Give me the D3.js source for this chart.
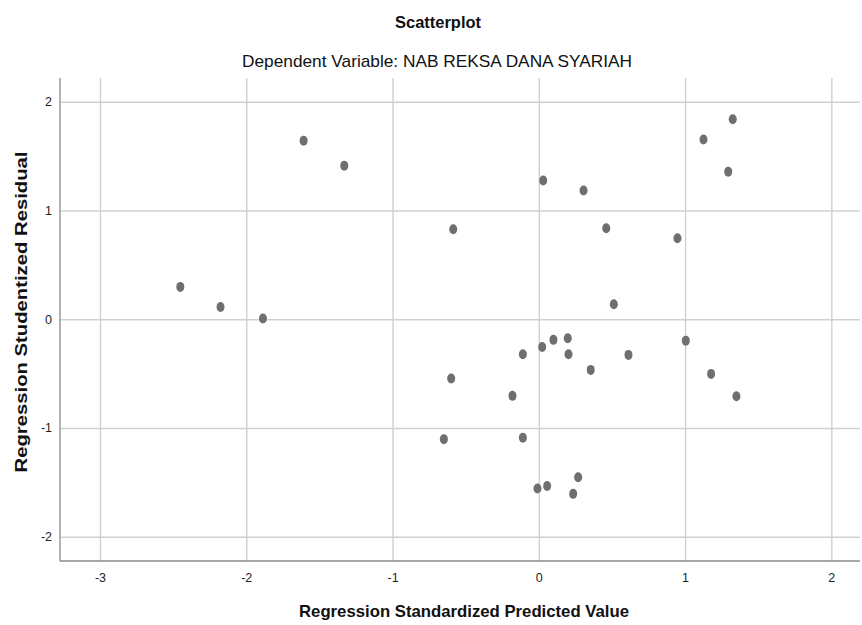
<!DOCTYPE html>
<html>
<head>
<meta charset="utf-8">
<script src="https://cdn.jsdelivr.net/npm/d3@7"></script>
<style>
  html, body { margin: 0; padding: 0; background: #ffffff; }
  svg { display: block; }
  text { font-family: "Liberation Sans", Arial, sans-serif; }
</style>
</head>
<body>
<div id="chart"></div>
<script>
// ---- data ----
const title = "Scatterplot";
const subtitle = "Dependent Variable: NAB REKSA DANA SYARIAH";
const xLabel = "Regression Standardized Predicted Value";
const yLabel = "Regression Studentized Residual";
const xTicks = [-3, -2, -1, 0, 1, 2];
const yTicks = [-2, -1, 0, 1, 2];
const predicted = [
  -2.451, -2.176, -1.886, -1.608, -1.330, -0.585,
   1.326,  1.126,  1.295,  0.030,  0.306,  0.461,
   0.948,  0.513,  1.005,  0.198,  0.100,  0.023,
  -0.109,  0.203,  0.613,  0.355, -0.599,  1.178,
  -0.180,  1.351, -0.649, -0.109,  0.269,  0.057,
  -0.009,  0.235
];
const residual = [
   0.297,  0.113,  0.006,  1.642,  1.412,  0.828,
   1.839,  1.652,  1.357,  1.275,  1.183,  0.837,
   0.745,  0.138, -0.197, -0.175, -0.190, -0.255,
  -0.322, -0.322, -0.328, -0.466, -0.546, -0.503,
  -0.705, -0.708, -1.103, -1.089, -1.453, -1.533,
  -1.557, -1.606
];
const xDomain = [-3.2735, 2.196];
const yDomain = [-2.2234, 2.218];

// ---- layout ----
const W = 862, H = 625;
const plot = { left: 60, right: 860, top: 78, bottom: 561 };

const svg = d3.select("#chart").append("svg")
  .attr("width", W).attr("height", H);

const x = d3.scaleLinear().domain(xDomain).range([plot.left, plot.right]);
const y = d3.scaleLinear().domain(yDomain).range([plot.bottom, plot.top]);

// gridlines
const gridColor = "#d0d0d0";
const gx = svg.append("g")
  .attr("transform", `translate(0,${plot.bottom})`)
  .call(d3.axisBottom(x).tickValues(xTicks).tickSize(-(plot.bottom - plot.top)).tickFormat(""));
gx.select(".domain").remove();
gx.selectAll("line").attr("stroke", gridColor).attr("stroke-width", 1.4);

const gy = svg.append("g")
  .attr("transform", `translate(${plot.left},0)`)
  .call(d3.axisLeft(y).tickValues(yTicks).tickSize(-(plot.right - plot.left)).tickFormat(""));
gy.select(".domain").remove();
gy.selectAll("line").attr("stroke", gridColor).attr("stroke-width", 1.4);

// axis lines
svg.append("line")
  .attr("x1", plot.left).attr("x2", plot.left)
  .attr("y1", plot.top).attr("y2", plot.bottom)
  .attr("stroke", "#8a8a8a").attr("stroke-width", 1.3);
svg.append("line")
  .attr("x1", plot.left).attr("x2", plot.right)
  .attr("y1", plot.bottom).attr("y2", plot.bottom)
  .attr("stroke", "#8a8a8a").attr("stroke-width", 1.3);

// tick labels
const fmt = d => String(d);
const xa = svg.append("g")
  .attr("transform", `translate(0,${plot.bottom})`)
  .call(d3.axisBottom(x).tickValues(xTicks).tickSize(0).tickPadding(12).tickFormat(fmt));
xa.select(".domain").remove();
xa.selectAll("text").attr("font-size", 12.5).attr("fill", "#222")
  .style("font-family", '"Liberation Sans", Arial, sans-serif');

const ya = svg.append("g")
  .attr("transform", `translate(${plot.left},0)`)
  .call(d3.axisLeft(y).tickValues(yTicks).tickSize(0).tickPadding(8).tickFormat(fmt));
ya.select(".domain").remove();
ya.selectAll("text").attr("font-size", 12.5).attr("fill", "#222")
  .style("font-family", '"Liberation Sans", Arial, sans-serif');

// points
const pts = predicted.map((v, i) => ({ px: v, py: residual[i] }));
svg.append("g").selectAll("ellipse").data(pts).join("ellipse")
  .attr("cx", d => x(d.px)).attr("cy", d => y(d.py))
  .attr("rx", 4).attr("ry", 5)
  .attr("fill", "#6f6f6f");

// titles
svg.append("text")
  .attr("x", 438).attr("y", 28)
  .attr("text-anchor", "middle")
  .attr("font-size", 17).attr("font-weight", "bold").attr("fill", "#111")
  .attr("textLength", 86).attr("lengthAdjust", "spacingAndGlyphs")
  .text(title);
svg.append("text")
  .attr("x", 437).attr("y", 67)
  .attr("text-anchor", "middle")
  .attr("font-size", 17).attr("fill", "#111")
  .attr("textLength", 390).attr("lengthAdjust", "spacingAndGlyphs")
  .text(subtitle);
svg.append("text")
  .attr("x", 464).attr("y", 617)
  .attr("text-anchor", "middle")
  .attr("font-size", 17).attr("font-weight", "bold").attr("fill", "#111")
  .attr("textLength", 330).attr("lengthAdjust", "spacingAndGlyphs")
  .text(xLabel);
svg.append("text")
  .attr("transform", "translate(27,312) rotate(-90)")
  .attr("text-anchor", "middle")
  .attr("font-size", 17).attr("font-weight", "bold").attr("fill", "#111")
  .attr("textLength", 321).attr("lengthAdjust", "spacingAndGlyphs")
  .text(yLabel);
</script>
</body>
</html>
